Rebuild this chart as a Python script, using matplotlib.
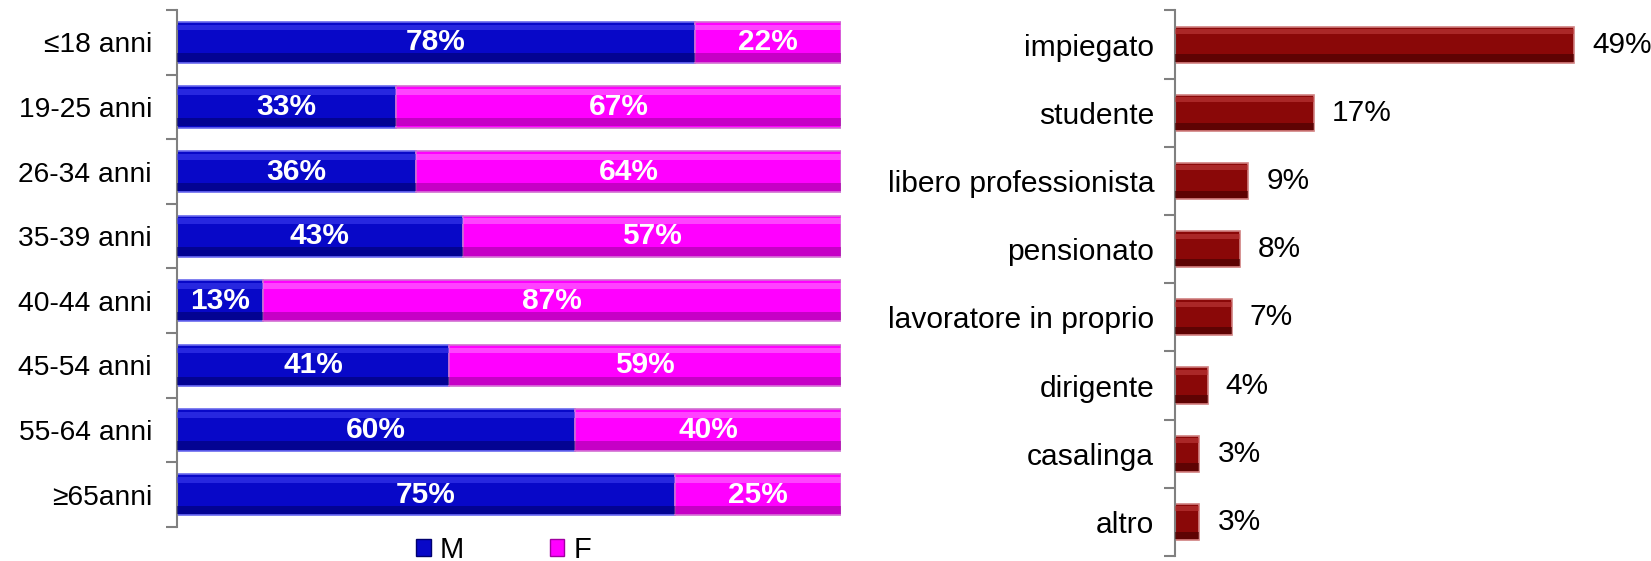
import matplotlib

matplotlib.use("Agg")
import matplotlib.pyplot as plt
import numpy as np
from matplotlib.patches import Patch

plt.rcParams["font.family"] = ["Liberation Sans", "DejaVu Sans"]

# age groups, share of males / females
age_groups = ["≤18 anni", "19-25 anni", "26-34 anni", "35-39 anni",
              "40-44 anni", "45-54 anni", "55-64 anni", "≥65anni"]
male_pct = [78, 33, 36, 43, 13, 41, 60, 75]
female_pct = [22, 67, 64, 57, 87, 59, 40, 25]

# occupation shares
occupations = ["impiegato", "studente", "libero professionista", "pensionato",
               "lavoratore in proprio", "dirigente", "casalinga", "altro"]
occupation_pct = [49, 17, 9, 8, 7, 4, 3, 3]

BLUE, BLUE_HI, BLUE_LO = "#0808c8", "#3c3cf0", "#00006e"
MAG, MAG_HI, MAG_LO = "#ff00ff", "#ff70ff", "#a000a0"
RED, RED_HI, RED_LO = "#8a0808", "#c03c3c", "#420000"
SPINE = "#808080"


def bevel_barh(ax, y, widths, lefts, h, base, hi, lo, edge):
    """Flat bar plus light top / dark bottom bands for a bevelled look."""
    y = np.asarray(y, dtype=float)
    ax.barh(y, widths, left=lefts, height=h, color=base, edgecolor=edge, lw=1.2, zorder=2)
    ax.barh(y - h * 0.36, widths, left=lefts, height=h * 0.14, color=hi, lw=0, zorder=3, alpha=0.6)
    ax.barh(y + h * 0.37, widths, left=lefts, height=h * 0.2, color=lo, lw=0, zorder=3, alpha=0.6)


def style_cat_axis(ax, labels, pad, size):
    n = len(labels)
    for s in ["top", "right", "bottom"]:
        ax.spines[s].set_visible(False)
    ax.spines["left"].set_color(SPINE)
    ax.spines["left"].set_linewidth(1.5)
    ax.set_yticks(np.arange(n + 1) - 0.5)
    ax.set_yticklabels([])
    ax.set_yticks(np.arange(n), minor=True)
    ax.set_yticklabels(labels, minor=True, fontsize=size)
    ax.tick_params(axis="y", which="major", length=8, width=1.5, color=SPINE)
    ax.tick_params(axis="y", which="minor", length=0, pad=pad)
    ax.set_xticks([])
    ax.set_ylim(n - 0.5, -0.5)


fig = plt.figure(figsize=(16.51, 5.61), dpi=100)

# left: gender by age group
ax1 = fig.add_axes([0.1072, 0.0606, 0.4022, 0.9216])
y = np.arange(len(age_groups))
bevel_barh(ax1, y, male_pct, 0, 0.64, BLUE, BLUE_HI, BLUE_LO, "#6a6aee")
bevel_barh(ax1, y, female_pct, male_pct, 0.64, MAG, MAG_HI, MAG_LO, "#d070d0")
for i, (m, f) in enumerate(zip(male_pct, female_pct)):
    ax1.text(m / 2, i, f"{m}%", color="white", fontsize=21.5, fontweight="bold",
             ha="center", va="center", zorder=5)
    ax1.text(m + f / 2, i, f"{f}%", color="white", fontsize=21.5, fontweight="bold",
             ha="center", va="center", zorder=5)
ax1.set_xlim(0, 100)
style_cat_axis(ax1, age_groups, 18, 20.3)

handles = [Patch(facecolor=BLUE, edgecolor=BLUE_LO, label="M"),
           Patch(facecolor=MAG, edgecolor=MAG_LO, label="F")]
fig.legend(handles=handles, loc="center", bbox_to_anchor=(0.305, 0.02), ncol=2,
           frameon=False, fontsize=21, handlelength=0.5, handleheight=0.55,
           handletextpad=0.3, columnspacing=2.95, borderpad=0)

# right: occupation
ax2 = fig.add_axes([0.7117, 0.0089, 0.2847, 0.9724])
y2 = np.arange(len(occupations))
bevel_barh(ax2, y2, occupation_pct, 0, 0.53, RED, RED_HI, RED_LO, "#d08080")
for i, v in enumerate(occupation_pct):
    ax2.text(v + 2.2, i, f"{v}%", fontsize=21.5, ha="left", va="center")
ax2.set_xlim(0, 57.7)
style_cat_axis(ax2, occupations, 15, 21.6)

fig.savefig("out.png", dpi=100)
